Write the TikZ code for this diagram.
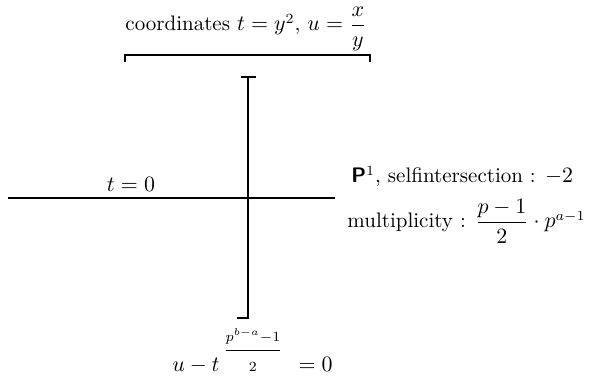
\documentclass[tikz,border=0pt]{standalone}
\usepackage{amsmath}
\begin{document}
\begin{tikzpicture}[x=0.5pt,y=-0.5pt,
  curve/.style={line width=1pt},
  tick/.style={line width=0.8pt},
  lab/.style={inner sep=0pt,font=\fontsize{10.5}{13}\selectfont}]
\useasboundingbox (0,0) rectangle (590,383);
% bracket
\coordinate (bl) at (125,62);
\coordinate (br) at (370,62);
\draw[line width=0.9pt] (bl) -- ++(0,-7) -| (br);
\node[lab,anchor=base] (coord) at (246,31) {coordinates $t=y^2$, $u=\dfrac{x}{y}$};
% vertical curve
\coordinate (vt) at (248,77);
\coordinate (vb) at (248,318);
\draw[curve] (vt) -- (vb);
\draw[tick] (241,77) -- (256,77);
\draw[tick] (237,318) -- (249,318);
% horizontal curve
\coordinate (hl) at (8,198);
\coordinate (hr) at (335,198);
\draw[curve] (hl) -- (hr);
\node[lab,anchor=base] (t0) at (131,192) {$t=0$};
\node[lab,anchor=base west] (p1) at (351,183) {\textsf{\bfseries P}$^{1}$, selfintersection : $-2$};
\node[lab,anchor=base west] (mult) at (347,228) {multiplicity : $\dfrac{p-1}{2}\cdot p^{a-1}$};
\node[lab,anchor=base west] (eq) at (172,372) {$u-t\,\raisebox{8pt}{$\dfrac{\scriptstyle p^{b-a}-1}{\scriptstyle 2}$}\;\,=0$};
\end{tikzpicture}
\end{document}
